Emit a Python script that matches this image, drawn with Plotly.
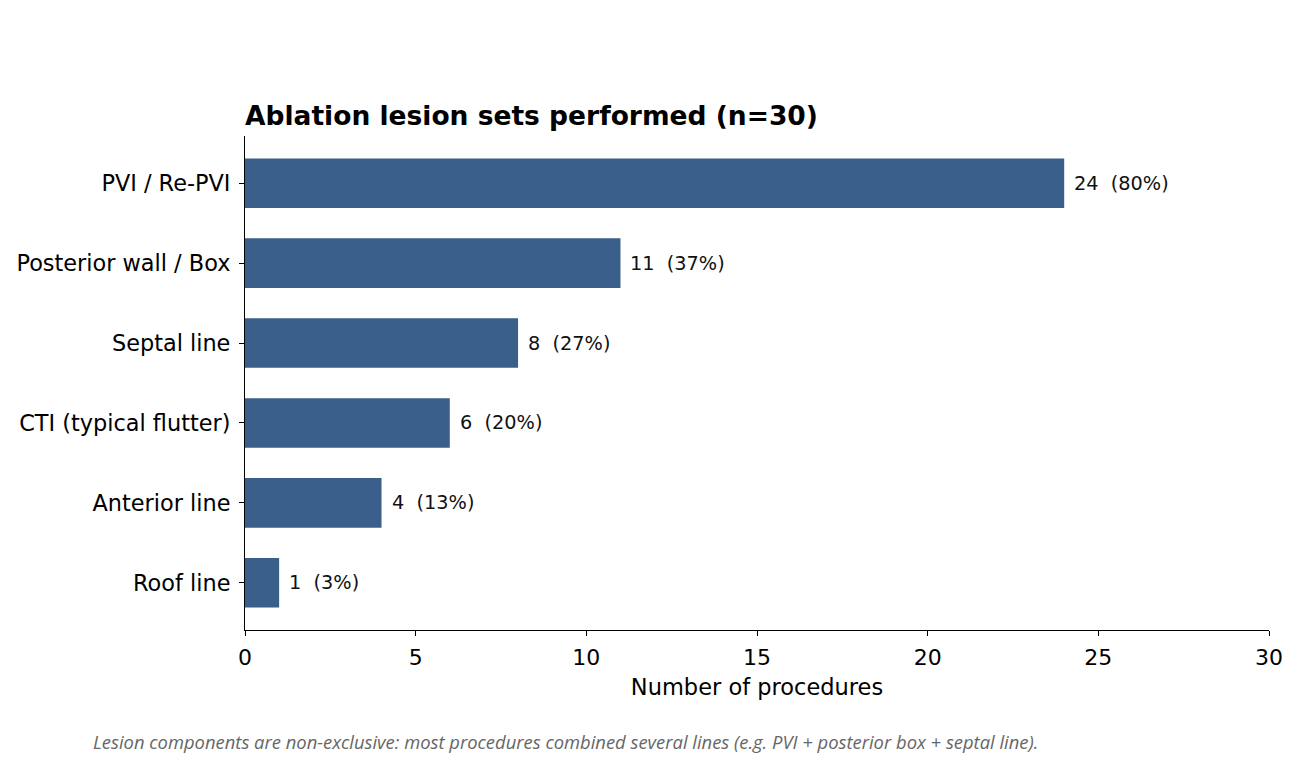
import plotly.graph_objects as go

# lesion sets, bottom to top as drawn
lesions = ["Roof line", "Anterior line", "CTI (typical flutter)", "Septal line",
           "Posterior wall / Box", "PVI / Re-PVI"]
counts = [1, 4, 6, 8, 11, 24]
n_total = 30
x_ticks = [0, 5, 10, 15, 20, 25, 30]

bar_color = "#3a5f8a"
font = "DejaVu Sans"

fig = go.Figure()
fig.add_trace(go.Bar(
    y=lesions, x=counts, orientation="h",
    marker=dict(color=bar_color, line=dict(width=0)),
    width=0.62, hoverinfo="x+y",
))

# value labels next to each bar
for lab, c in zip(lesions, counts):
    pct = round(c / n_total * 100)
    fig.add_annotation(x=c, y=lab, text=f"{c}&nbsp;&nbsp;({pct}%)", showarrow=False,
                       xanchor="left", yanchor="middle", xshift=8,
                       font=dict(family=font, size=19.3, color="#111111"))

fig.add_annotation(
    xref="paper", yref="paper", x=-0.1504, y=-0.2267,
    xanchor="left", yanchor="middle", showarrow=False,
    text="<i>Lesion components are non-exclusive: most procedures combined several lines (e.g. PVI + posterior box + septal line).</i>",
    font=dict(family="Open Sans", size=18.4, color="#666666"),
)

fig.update_layout(
    width=1308, height=762,
    margin=dict(l=237, r=47, t=128, b=140, autoexpand=False),
    plot_bgcolor="white", paper_bgcolor="white",
    showlegend=False,
    title=dict(text="<b>Ablation lesion sets performed (n=30)</b>",
               x=237 / 1308, xanchor="left", xref="container",
               y=1 - 108 / 762, yanchor="middle", yref="container",
               font=dict(family=font, size=26.5, color="black")),
    font=dict(family=font, size=22, color="black"),
)
fig.update_xaxes(range=[0, 30], tickvals=x_ticks, showgrid=False, zeroline=False,
                 showline=True, linecolor="black", linewidth=1.2,
                 ticks="outside", ticklen=5, tickcolor="black",
                 tickfont=dict(size=22), ticklabelstandoff=2, automargin=False,
                 title=dict(text="Number of procedures", font=dict(size=22.5), standoff=10))
fig.update_yaxes(range=[-0.59, 5.59], showgrid=False, zeroline=False,
                 showline=True, linecolor="black", linewidth=1.2,
                 ticks="outside", ticklen=5, tickcolor="black",
                 tickfont=dict(size=22.4), ticklabelstandoff=4, automargin=False)

fig.write_html("out.html")
